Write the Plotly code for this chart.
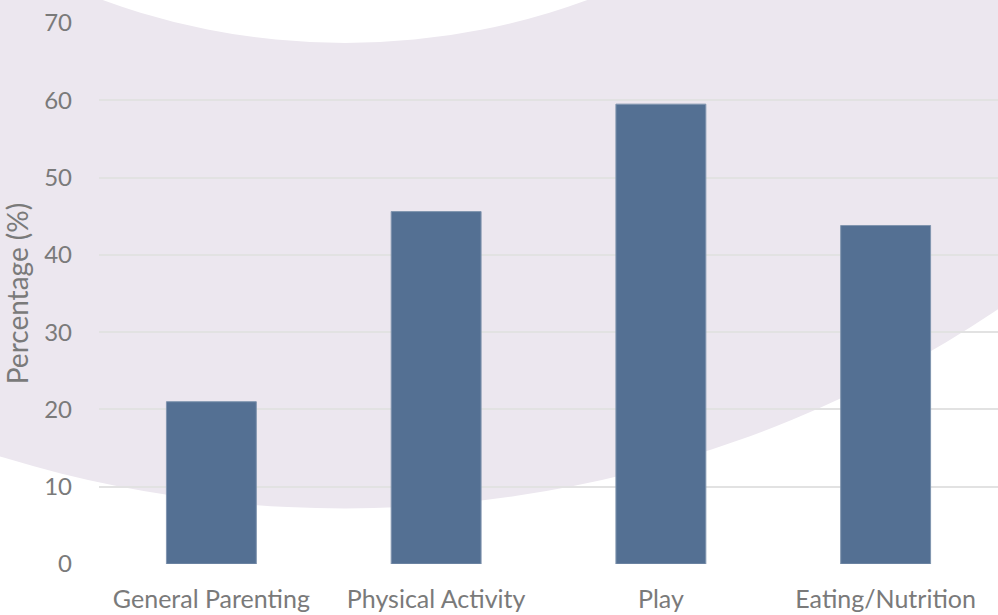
import plotly.graph_objects as go

categories = ["General Parenting", "Physical Activity", "Play", "Eating/Nutrition"]
percentages = [21.0, 45.6, 59.5, 43.8]
y_ticks = [0, 10, 20, 30, 40, 50, 60, 70]

W, H = 998, 615
L, R, T, B = 99, 0, 23, 51
PW, PH = W - L - R, H - T - B


def px_x(x):
    return (x - L) / PW


def px_y(y):
    return (H - B - y) / PH


# decorative ring (concentric circles) in pixel coordinates
cx, cy = 345, -661.5
R_out, R_in = 1170, 704.5

lav = "#ECE7EF"
shapes = [
    dict(type="circle", xref="paper", yref="paper", layer="below",
         x0=px_x(cx - R_out), x1=px_x(cx + R_out),
         y0=px_y(cy + R_out), y1=px_y(cy - R_out),
         fillcolor=lav, line=dict(width=0)),
    dict(type="circle", xref="paper", yref="paper", layer="below",
         x0=px_x(cx - R_in), x1=px_x(cx + R_in),
         y0=px_y(cy + R_in), y1=px_y(cy - R_in),
         fillcolor="white", line=dict(width=0)),
]

font_family = "Lato, 'Open Sans', sans-serif"
text_color = "#7A7A7A"

fig = go.Figure(
    go.Bar(
        x=categories,
        y=percentages,
        marker=dict(color="#547093", line=dict(color="#8195AF", width=1)),
        hoverinfo="x+y",
    )
)

fig.update_layout(
    width=W,
    height=H,
    margin=dict(l=L, r=R, t=T, b=B, pad=0),
    paper_bgcolor="white",
    plot_bgcolor="rgba(0,0,0,0)",
    bargap=0.6,
    showlegend=False,
    shapes=shapes,
    font=dict(family=font_family, color=text_color, size=24),
)

fig.update_yaxes(
    range=[0, 70],
    tickvals=y_ticks,
    showgrid=True,
    gridcolor="#E2E2E2",
    gridwidth=2,
    zeroline=False,
    showline=False,
    ticks="",
    ticklabelstandoff=26,
    tickfont=dict(size=24, color=text_color),
    title=dict(text="Percentage (%)", font=dict(size=28, color=text_color), standoff=9),
)

fig.update_xaxes(
    showgrid=False,
    zeroline=False,
    showline=False,
    ticks="",
    ticklabelstandoff=18,
    tickfont=dict(size=25, color=text_color),
)

fig.write_html(
    "out.html",
    config={"displayModeBar": False},
    post_script="document.body.style.margin='0';document.body.style.overflow='hidden';",
)
